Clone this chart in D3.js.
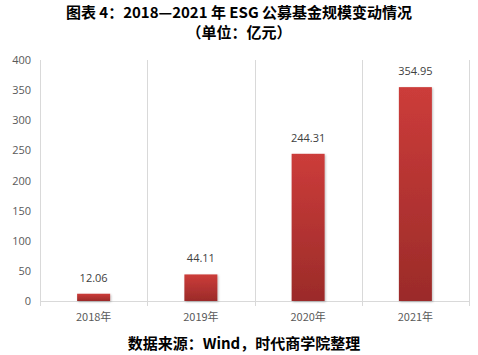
<!DOCTYPE html>
<html><head><meta charset="utf-8">
<script src="https://cdn.jsdelivr.net/npm/d3@7"></script>
<style>body{margin:0;background:#fff;}svg{display:block;}</style>
</head><body>
<script>
const categories = ["2018年","2019年","2020年","2021年"];
const values = [12.06, 44.11, 244.31, 354.95];
const yTicks = [0,50,100,150,200,250,300,350,400];
const titleLines = ["图表 4：2018—2021 年 ESG 公募基金规模变动情况","（单位：亿元）"];
const sourceText = "数据来源：Wind，时代商学院整理";

const W=478,H=355;
const m={left:40,right:9,top:60,bottom:54};
const svg=d3.select("body").append("svg").attr("width",W).attr("height",H);
const defs=svg.append("defs");
const g1=defs.append("linearGradient").attr("id","bg").attr("x1",0).attr("y1",0).attr("x2",0).attr("y2",1);
g1.append("stop").attr("offset","0%").attr("stop-color","#cc3c3a");
g1.append("stop").attr("offset","100%").attr("stop-color","#9b2b29");
const f=defs.append("filter").attr("id","sh").attr("x","-20%").attr("y","-20%").attr("width","150%").attr("height","150%");
f.append("feDropShadow").attr("dx",1).attr("dy",1).attr("stdDeviation",1).attr("flood-color","#000").attr("flood-opacity",0.25);

const x=d3.scaleBand().domain(categories).range([m.left,W-m.right]).paddingInner(0).paddingOuter(0);
const y=d3.scaleLinear().domain([0,400]).range([H-m.bottom,m.top]);
const base=y(0);

// vertical separators
const seps=categories.map((c,i)=>x(c)+x.bandwidth());
svg.append("g").selectAll("line").data(seps).join("line")
 .attr("x1",d=>Math.round(d)+0.5).attr("x2",d=>Math.round(d)+0.5)
 .attr("y1",m.top).attr("y2",base+5).attr("stroke","#d9d9d9");
// left axis
svg.append("line").attr("x1",m.left+0.5).attr("x2",m.left+0.5).attr("y1",m.top).attr("y2",base+5).attr("stroke","#d9d9d9");
// baseline
svg.append("line").attr("x1",m.left).attr("x2",W-m.right).attr("y1",Math.round(base)+0.5).attr("y2",Math.round(base)+0.5).attr("stroke","#d9d9d9");

// y tick labels
const ya=d3.axisLeft(y).tickValues(yTicks).tickSize(0).tickPadding(9);
const yg=svg.append("g").attr("transform",`translate(${m.left},0)`).call(ya);
yg.select(".domain").remove();
yg.selectAll("text").attr("font-family","'Open Sans','DejaVu Sans',sans-serif").attr("font-size",11).attr("fill","#595959");

// x labels
const xa=d3.axisBottom(x).tickSize(0).tickPadding(12);
const xg=svg.append("g").attr("transform",`translate(0,${base})`).call(xa);
xg.select(".domain").remove();
xg.selectAll("text").attr("font-family","'Noto Sans CJK SC',sans-serif").attr("font-size",11).attr("fill","#595959");

// bars
const bw=33;
svg.append("g").selectAll("rect").data(values).join("rect")
 .attr("x",(d,i)=>x(categories[i])+x.bandwidth()/2-bw/2)
 .attr("y",d=>y(d)).attr("width",bw).attr("height",d=>base-y(d))
 .attr("fill","url(#bg)").attr("filter","url(#sh)");

// value labels
svg.append("g").selectAll("text").data(values).join("text")
 .attr("x",(d,i)=>x(categories[i])+x.bandwidth()/2)
 .attr("y",d=>y(d)-12).attr("text-anchor","middle")
 .attr("font-family","'Open Sans','DejaVu Sans',sans-serif").attr("font-size",11).attr("fill","#404040")
 .text(d=>d.toFixed(2));

// title
svg.append("g").selectAll("text").data(titleLines).join("text")
 .attr("x",239).attr("y",(d,i)=>18+i*20).attr("text-anchor","middle")
 .attr("font-family","'Noto Sans CJK SC',sans-serif").attr("font-weight","bold").attr("font-size",15).attr("fill","#000")
 .text(d=>d);

svg.append("text").attr("x",244).attr("y",349).attr("text-anchor","middle")
 .attr("font-family","'Noto Sans CJK SC',sans-serif").attr("font-weight","bold").attr("font-size",15).attr("fill","#000")
 .text(sourceText);
</script>
</body></html>
